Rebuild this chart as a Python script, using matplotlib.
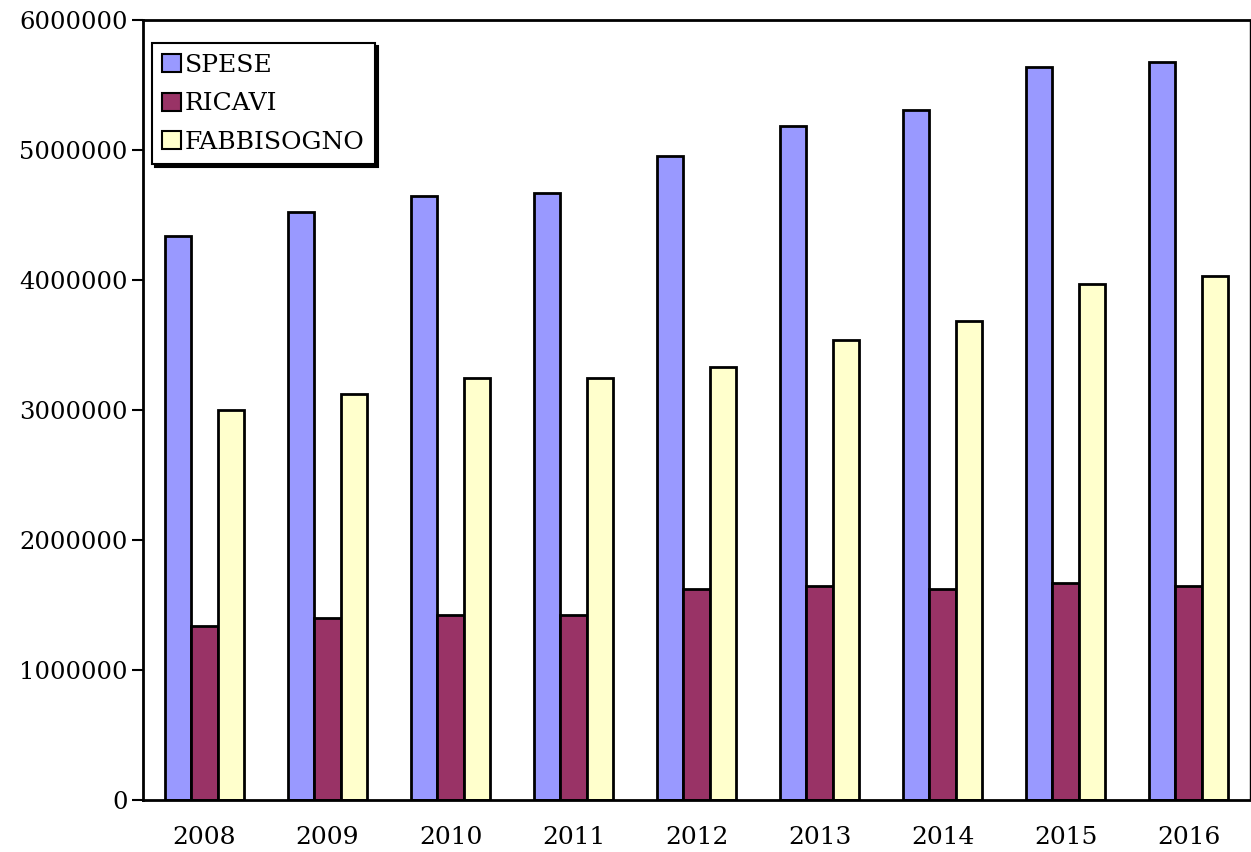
import numpy as np
import matplotlib
matplotlib.use("Agg")
import matplotlib.pyplot as plt

# dati
anni = ["2008", "2009", "2010", "2011", "2012", "2013", "2014", "2015", "2016"]
spese = [4338000, 4523000, 4646000, 4669000, 4954000, 5185000, 5308000, 5638000, 5677000]
ricavi = [1338000, 1400000, 1423000, 1423000, 1623000, 1646000, 1623000, 1669000, 1646000]
fabbisogno = [3000000, 3123000, 3246000, 3246000, 3331000, 3538000, 3685000, 3969000, 4031000]

serie = [("SPESE", spese, "#9999FF"),
         ("RICAVI", ricavi, "#993366"),
         ("FABBISOGNO", fabbisogno, "#FFFFCC")]

plt.rcParams['font.family'] = ['DejaVu Serif']

fig = plt.figure(figsize=(12.51, 8.52), dpi=100)
ax = fig.add_axes([0.1143, 0.061, 0.8850, 0.9155])

x = np.arange(len(anni))
w = 0.215
for i, (nome, valori, colore) in enumerate(serie):
    ax.bar(x + (i - 1) * w, valori, width=w, color=colore,
           edgecolor="black", linewidth=2, label=nome)

ax.set_xlim(-0.5, len(anni) - 0.5)
ax.set_ylim(0, 6000000)
ax.set_yticks(np.arange(0, 6000001, 1000000))
ax.set_yticklabels([str(v) for v in range(0, 6000001, 1000000)], fontsize=17.5)
ax.set_xticks(x)
ax.set_xticklabels(anni, fontsize=18)
ax.tick_params(axis="x", length=0, pad=19)
ax.tick_params(axis="y", length=8, width=1.5, pad=3)

ax.spines["left"].set_linewidth(2)
ax.spines["bottom"].set_linewidth(2)
ax.spines["top"].set_linewidth(2)
ax.spines["right"].set_linewidth(1)

leg = ax.legend(loc="upper left", bbox_to_anchor=(0.008, 0.970), fontsize=18,
                frameon=True, fancybox=False, shadow={"color": "black", "alpha": 1},
                edgecolor="black", handlelength=0.75, handleheight=0.75,
                handletextpad=0.15, labelspacing=0.62, borderpad=0.42,
                borderaxespad=0)
leg.get_frame().set_linewidth(1.5)
for h in leg.legend_handles:
    h.set_linewidth(1.5)

fig.savefig("out.png", dpi=100)
